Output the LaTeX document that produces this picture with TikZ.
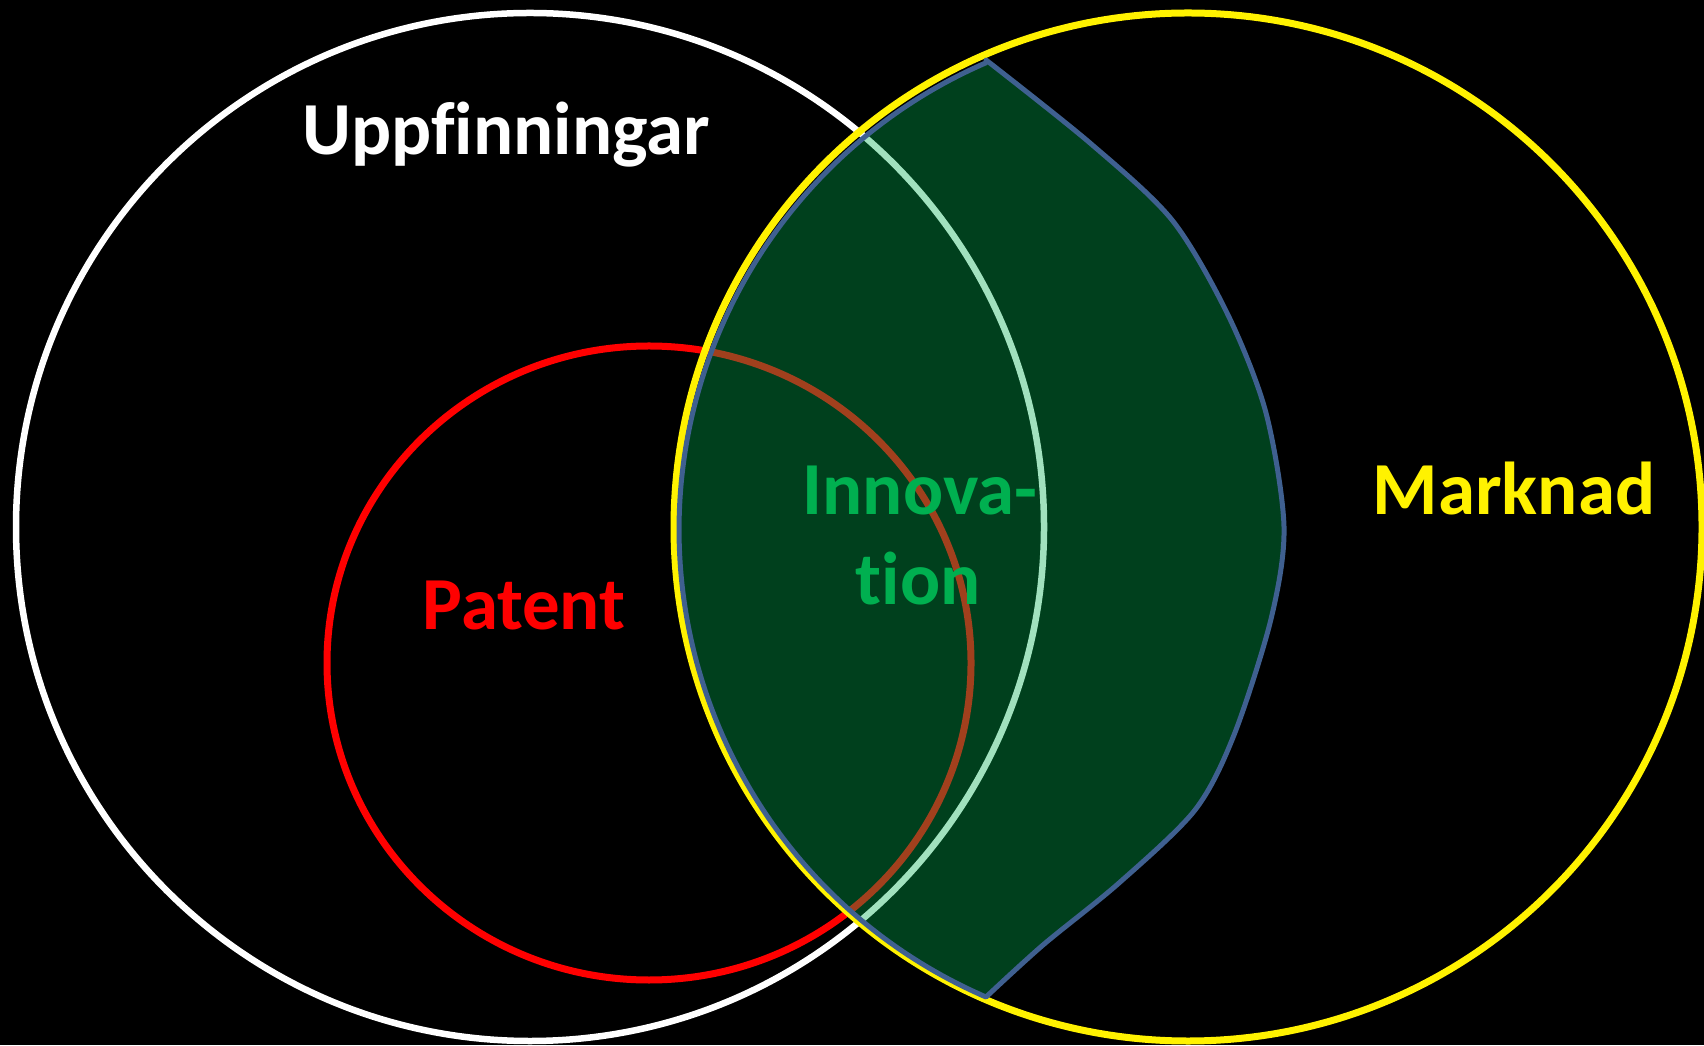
\documentclass[tikz,border=0pt]{standalone}
\usepackage{fontspec}
\setmainfont[Ligatures=NoCommon]{Carlito}
\usepackage{tikz}
\usetikzlibrary{positioning}

\definecolor{innovgreen}{HTML}{00B050}
\definecolor{innovedge}{HTML}{3F6090}

\begin{document}
\begin{tikzpicture}
	\fill[black] (0,0) rectangle (17.04,10.45);
	\useasboundingbox (0,0) rectangle (17.04,10.45);

	% Circles
	\draw[white,line width=0.065cm] (5.30,5.18) circle (5.14);
	\draw[red,line width=0.07cm] (6.49,3.82) ellipse [x radius=3.22, y radius=3.17];
	\draw[yellow,line width=0.07cm] (11.88,5.18) circle (5.14);

	% Innovation region
	\draw[innovedge,line width=0.05cm,fill=innovgreen,fill opacity=0.37,line join=round]
		plot [smooth] coordinates {
			(9.86,9.85)
			(10.90,9.02)
			(11.72,8.25)
			(12.28,7.30)
			(12.66,6.32)
			(12.84,5.18)
			(12.71,4.26)
			(12.34,3.10)
			(11.95,2.35)
			(11.19,1.62)
			(10.43,1.00)
			(9.86,0.48)
		}
		arc[start angle=246.6, end angle=113.4, radius=5.09] -- cycle;

	\begin{scope}[every node/.style={font=\bfseries\fontsize{21.3}{25.6}\selectfont,inner sep=0pt,anchor=base}]
		\node[white] (uppf) at (5.06,8.90) {Uppfinningar};
		\node[yellow] (marknad) at (15.14,5.30) {Marknad};
		\node[red] (patent) at (5.24,4.15) {Patent};
		\node[innovgreen] (innova) at (9.20,5.30) {Innova-};
		\node[innovgreen] (tion) at (9.18,4.40) {tion};
	\end{scope}
\end{tikzpicture}
\end{document}
